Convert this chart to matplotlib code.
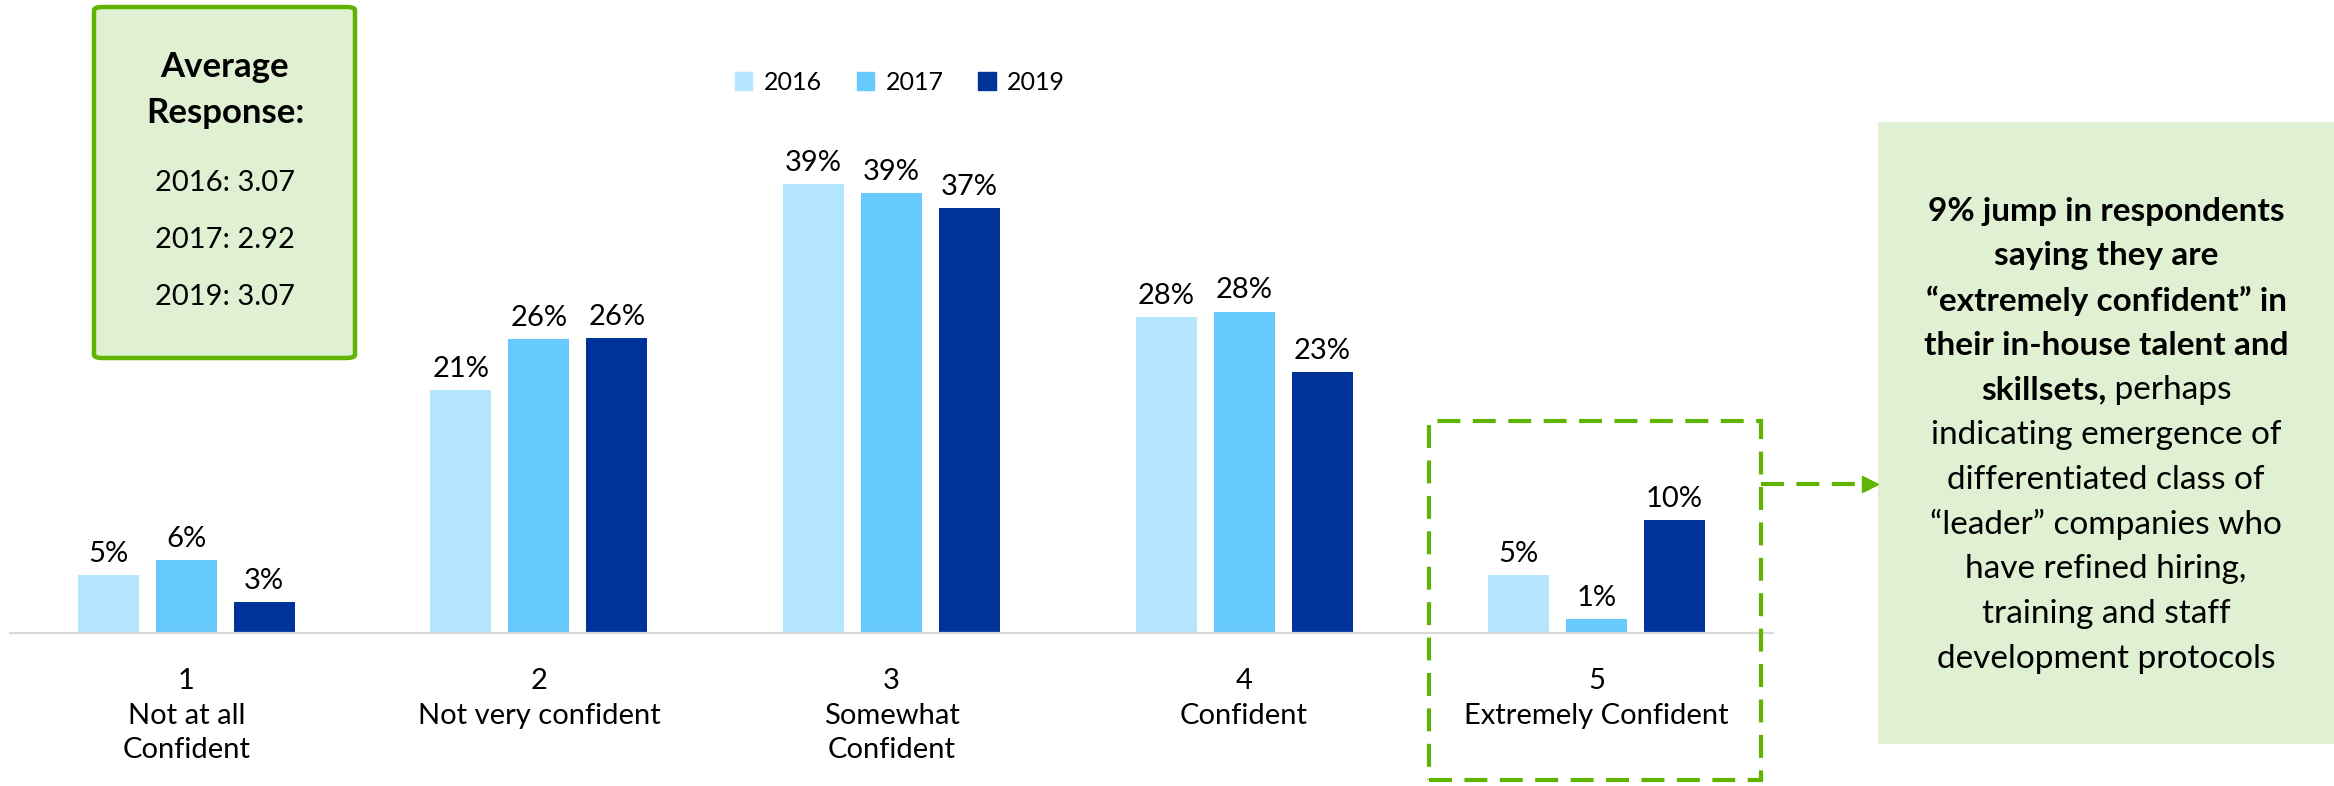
"""Confidence in in-house talent: grouped bars by survey year with callout boxes."""
import matplotlib.pyplot as plt
import numpy as np
from matplotlib.lines import Line2D
from matplotlib.patches import FancyBboxPatch, Patch, Rectangle

plt.rcParams['font.family'] = ['Lato', 'DejaVu Sans']

FIG_W, FIG_H = 2334, 786
CATEGORIES = ["1\nNot at all\nConfident", "2\nNot very confident", "3\nSomewhat\nConfident",
              "4\nConfident", "5\nExtremely Confident"]
YEARS = ["2016", "2017", "2019"]
VALUES_2016 = [5.1, 21.3, 39.4, 27.7, 5.1]
VALUES_2017 = [6.4, 25.8, 38.6, 28.2, 1.2]
VALUES_2019 = [2.7, 25.9, 37.3, 22.9, 9.9]
AVG_LINES = ["2016: 3.07", "2017: 2.92", "2019: 3.07"]
NOTE_BOLD = ["9% jump in respondents", "saying they are", "\u201cextremely confident\u201d in",
             "their in-house talent and"]
NOTE_MIXED = ("skillsets,", " perhaps")
NOTE_PLAIN = ["indicating emergence of", "differentiated class of",
              "\u201cleader\u201d companies who", "have refined hiring,", "training and staff",
              "development protocols"]

COLORS = ["#B4E6FD", "#66CAFE", "#003399"]
GREEN = "#5EB400"
BOX_FILL = "#E0F0D2"


def _fx(px):
    return px / FIG_W


def _fy(px):
    # pixel measured from the top of the picture
    return 1 - px / FIG_H


def _plot_bars(axis):
    series = [VALUES_2016, VALUES_2017, VALUES_2019]
    x_pos = np.arange(len(CATEGORIES))
    for i, vals in enumerate(series):
        bars = axis.bar(x_pos + (i - 1) * 0.221, vals, width=0.173, color=COLORS[i],
                        label=YEARS[i], zorder=2)
        for rect, val in zip(bars, vals):
            axis.annotate(f"{round(val)}%", (rect.get_x() + rect.get_width() / 2, val),
                          xytext=(0, 6), textcoords="offset points", ha="center", va="bottom",
                          fontsize=21, color="black")
    axis.set_xlim(-0.5, 4.5)
    axis.set_ylim(0, 50)
    axis.set_xticks(x_pos)
    axis.set_xticklabels(CATEGORIES, fontsize=21, linespacing=1.42, va="top")
    axis.tick_params(axis="x", length=0, pad=25)
    axis.set_yticks([])
    for side in ["left", "right", "top"]:
        axis.spines[side].set_visible(False)
    axis.spines["bottom"].set_color("#D9D9D9")
    axis.spines["bottom"].set_linewidth(1.6)


def _legend(fig):
    handles = [Patch(color=c, label=y) for c, y in zip(COLORS, YEARS)]
    fig.legend(handles=handles, loc="center", bbox_to_anchor=(_fx(900), _fy(82)), ncol=3,
               frameon=False, fontsize=18, handlelength=0.7, handleheight=0.7,
               handletextpad=0.45, columnspacing=1.4)


def _average_box(fig):
    box = FancyBboxPatch((_fx(94), _fy(358)), _fx(261), 351 / FIG_H,
                         boxstyle="round,pad=0,rounding_size=0.004", transform=fig.transFigure,
                         facecolor=BOX_FILL, edgecolor=GREEN, linewidth=3.2)
    fig.patches.append(box)
    fig.text(_fx(225), _fy(67), "Average", ha="center", va="center", fontsize=25,
             fontweight="bold")
    fig.text(_fx(225), _fy(113), "Response:", ha="center", va="center", fontsize=25,
             fontweight="bold")
    for i, line in enumerate(AVG_LINES):
        fig.text(_fx(225), _fy(183 + i * 57), line, ha="center", va="center", fontsize=21)


def _note_box(fig):
    fig.patches.append(Rectangle((_fx(1878), _fy(744)), _fx(456), 622 / FIG_H,
                                 transform=fig.transFigure, facecolor=BOX_FILL,
                                 edgecolor="none"))
    x_mid, y_top, step = 2106, 211, 44.8
    row = 0
    for line in NOTE_BOLD:
        fig.text(_fx(x_mid), _fy(y_top + row * step), line, ha="center", va="center",
                 fontsize=24, fontweight="bold")
        row += 1
    # mixed weight line: bold part + regular part, centred together
    y_mixed = _fy(y_top + row * step)
    bold = fig.text(0, y_mixed, NOTE_MIXED[0], ha="left", va="center", fontsize=24,
                    fontweight="bold")
    plain = fig.text(0, y_mixed, NOTE_MIXED[1], ha="left", va="center", fontsize=24)
    renderer = fig.canvas.get_renderer()
    w_bold = bold.get_window_extent(renderer).width
    w_plain = plain.get_window_extent(renderer).width
    start = x_mid - (w_bold + w_plain) / 2
    bold.set_x(_fx(start))
    plain.set_x(_fx(start + w_bold))
    row += 1
    for line in NOTE_PLAIN:
        fig.text(_fx(x_mid), _fy(y_top + row * step), line, ha="center", va="center",
                 fontsize=24)
        row += 1


def _highlight(fig):
    fig.patches.append(Rectangle((_fx(1429), _fy(780)), _fx(332), 359 / FIG_H,
                                 transform=fig.transFigure, fill=False, edgecolor=GREEN,
                                 linewidth=3, linestyle=(0, (5.5, 3))))
    fig.add_artist(Line2D([_fx(1761), _fx(1866)], [_fy(484), _fy(484)],
                          transform=fig.transFigure, color=GREEN, linewidth=3,
                          linestyle=(0, (5.5, 3))))
    fig.add_artist(Line2D([_fx(1870)], [_fy(484)], transform=fig.transFigure, marker=">",
                          markersize=11, color=GREEN, linestyle="none"))


def _main():
    fig = plt.figure(figsize=(FIG_W / 100, FIG_H / 100), dpi=100)
    axis = fig.add_axes([_fx(10), _fy(633), _fx(1763), 569.5 / FIG_H])
    _plot_bars(axis)
    _legend(fig)
    _average_box(fig)
    _note_box(fig)
    _highlight(fig)
    fig.savefig("out.png", dpi=100)


if __name__ == "__main__":
    _main()
